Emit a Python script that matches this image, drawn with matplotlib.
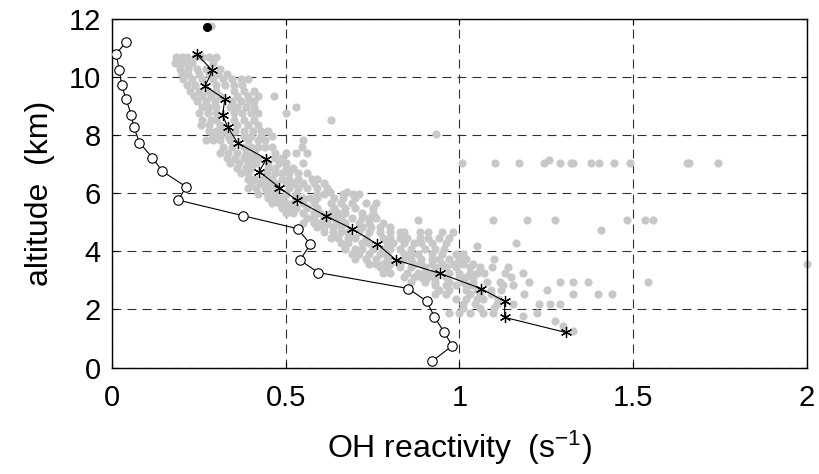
import numpy as np
import matplotlib
matplotlib.use('Agg')
import matplotlib.pyplot as plt

plt.rcParams['font.family'] = ['Liberation Sans', 'DejaVu Sans']
plt.rcParams['mathtext.default'] = 'regular'

# black line with asterisks (x = OH reactivity, y = altitude)
star_x = [0.244, 0.289, 0.268, 0.325, 0.318, 0.333, 0.362, 0.444, 0.424, 0.482,
          0.533, 0.615, 0.690, 0.764, 0.818, 0.944, 1.062, 1.130, 1.130, 1.306]
star_y = [10.77, 10.22, 9.68, 9.23, 8.69, 8.27, 7.72, 7.18, 6.74, 6.19,
          5.75, 5.22, 4.78, 4.24, 3.70, 3.24, 2.72, 2.28, 1.73, 1.21]

# black line with open circles
circ_x = [0.040, 0.012, 0.021, 0.028, 0.040, 0.055, 0.063, 0.079, 0.116, 0.145,
          0.213, 0.191, 0.378, 0.534, 0.571, 0.541, 0.593, 0.853, 0.906, 0.928,
          0.956, 0.979, 0.922]
circ_y = [11.19, 10.79, 10.22, 9.71, 9.25, 8.70, 8.27, 7.74, 7.22, 6.75,
          6.22, 5.76, 5.22, 4.78, 4.24, 3.70, 3.27, 2.72, 2.28, 1.74,
          1.22, 0.75, 0.23]

# single black point at the top
top_x = [0.274]
top_y = [11.72]

# gray scatter, read row by row (altitude: x values)
gray_rows = {
    11.75: [0.285],
    10.68: [0.185, 0.20, 0.215, 0.24, 0.26, 0.28, 0.30],
    10.48: [0.18, 0.195, 0.21, 0.23, 0.29],
    10.28: [0.195, 0.22, 0.245, 0.27, 0.31],
    10.08: [0.20, 0.22, 0.25, 0.28, 0.305, 0.33],
    9.92: [0.205, 0.23, 0.26, 0.29, 0.32, 0.345, 0.37, 0.39],
    9.72: [0.215, 0.24, 0.30, 0.325, 0.35, 0.375],
    9.52: [0.225, 0.25, 0.275, 0.30, 0.35, 0.38, 0.41],
    9.35: [0.235, 0.26, 0.285, 0.31, 0.36, 0.39, 0.42, 0.465],
    9.15: [0.245, 0.27, 0.295, 0.345, 0.37, 0.395, 0.41],
    8.95: [0.26, 0.28, 0.30, 0.34, 0.36, 0.385, 0.41, 0.53],
    8.75: [0.25, 0.275, 0.30, 0.35, 0.375, 0.40, 0.42, 0.50],
    8.52: [0.26, 0.285, 0.30, 0.35, 0.38, 0.41, 0.63],
    8.35: [0.255, 0.28, 0.31, 0.36, 0.39, 0.42],
    8.15: [0.28, 0.30, 0.32, 0.355, 0.38, 0.405, 0.43, 0.45],
    8.04: [0.932],
    7.95: [0.29, 0.31, 0.335, 0.38, 0.40, 0.43, 0.46],
    7.82: [0.27, 0.29, 0.31, 0.34, 0.39, 0.42, 0.44, 0.55],
    7.60: [0.32, 0.345, 0.38, 0.40, 0.42, 0.44, 0.46, 0.546],
    7.38: [0.31, 0.335, 0.36, 0.385, 0.41, 0.47, 0.50, 0.53, 0.56],
    7.20: [0.33, 0.355, 0.38, 0.40, 0.42, 0.47, 0.49],
    7.14: [1.258],
    7.02: [0.34, 0.365, 0.39, 0.415, 0.45, 0.48, 0.50, 0.55, 1.006, 1.103,
           1.170, 1.243, 1.289, 1.320, 1.328, 1.379, 1.401, 1.445, 1.491,
           1.654, 1.661, 1.745],
    6.85: [0.36, 0.385, 0.40, 0.45, 0.47, 0.50, 0.52],
    6.70: [0.37, 0.39, 0.445, 0.47, 0.49, 0.51, 0.536, 0.56],
    6.50: [0.39, 0.41, 0.435, 0.46, 0.49, 0.51, 0.535, 0.575, 0.59],
    6.35: [0.40, 0.425, 0.45, 0.47, 0.50, 0.525, 0.55, 0.58, 0.61],
    6.17: [0.39, 0.415, 0.44, 0.46, 0.51, 0.535, 0.56, 0.589, 0.62],
    6.05: [0.627, 0.675],
    5.98: [0.42, 0.445, 0.47, 0.50, 0.53, 0.59, 0.61, 0.665, 0.693, 0.71],
    5.82: [0.45, 0.47, 0.49, 0.55, 0.57, 0.59, 0.64, 0.665, 0.70],
    5.65: [0.46, 0.48, 0.50, 0.52, 0.55, 0.58, 0.63, 0.66, 0.69, 0.73, 0.76],
    5.48: [0.49, 0.51, 0.53, 0.56, 0.59, 0.64, 0.67, 0.70, 0.75],
    5.32: [0.50, 0.52, 0.55, 0.58, 0.60, 0.63, 0.65, 0.67, 0.72, 0.75],
    5.15: [0.56, 0.58, 0.61, 0.64, 0.66, 0.69, 0.72, 0.74, 0.76],
    5.09: [0.881, 1.096, 1.193, 1.275, 1.483, 1.535, 1.558],
    4.98: [0.55, 0.58, 0.60, 0.62, 0.645, 0.67, 0.71, 0.74, 0.78],
    4.82: [0.59, 0.61, 0.635, 0.66, 0.72, 0.745, 0.77, 0.80],
    4.73: [1.408],
    4.65: [0.61, 0.635, 0.66, 0.68, 0.71, 0.74, 0.77, 0.80, 0.83, 0.84,
           0.885, 0.91, 0.95, 0.98],
    4.45: [0.63, 0.65, 0.68, 0.70, 0.73, 0.78, 0.80, 0.83, 0.85, 0.885,
           0.91, 0.94, 0.97],
    4.27: [0.66, 0.68, 0.72, 0.74, 0.79, 0.81, 0.84, 0.87, 0.89, 0.92,
           0.96, 1.162],
    4.19: [1.051],
    4.08: [0.67, 0.70, 0.72, 0.75, 0.78, 0.80, 0.83, 0.86, 0.90, 0.93, 0.955],
    3.92: [0.69, 0.71, 0.74, 0.77, 0.79, 0.84, 0.86, 0.88, 0.92, 0.95, 0.99, 1.01],
    3.75: [0.70, 0.73, 0.76, 0.79, 0.84, 0.86, 0.89, 0.92, 0.94, 0.97, 1.00,
           1.02, 1.10],
    3.58: [0.74, 0.76, 0.78, 0.80, 0.83, 0.87, 0.89, 0.92, 0.95, 0.98, 1.01,
           1.04, 2.0],
    3.45: [0.77, 0.79, 0.83, 0.86, 0.90, 0.93, 0.96, 0.99, 1.03, 1.06, 1.095,
           1.141],
    3.26: [0.78, 0.80, 0.85, 0.88, 0.90, 0.92, 0.97, 1.00, 1.03, 1.05, 1.07,
           1.13, 1.184],
    3.10: [0.84, 0.87, 0.89, 0.91, 0.93, 0.96, 1.00, 1.02, 1.04, 1.148],
    2.95: [0.86, 0.90, 0.93, 0.97, 1.01, 1.04, 1.08, 1.118, 1.201, 1.289,
           1.326, 1.371, 1.542],
    2.83: [0.93, 0.96, 0.99, 1.02, 1.035, 1.126, 1.153],
    2.67: [0.94, 0.97, 1.02, 1.05, 1.09, 1.12, 1.251],
    2.53: [0.93, 0.96, 1.03, 1.06, 1.09, 1.186, 1.326, 1.400, 1.439],
    2.35: [0.99, 1.02, 1.05, 1.067, 1.11],
    2.20: [1.01, 1.045, 1.107, 1.155, 1.229, 1.26, 1.289],
    2.05: [1.01, 1.06, 1.10],
    1.88: [0.97, 1.00, 1.03, 1.068, 1.097, 1.222],
    1.76: [1.184],
    1.61: [1.275],
    1.42: [1.298],
    1.26: [1.326],
}
gray_y = [a for a, xs in gray_rows.items() for _ in xs]
gray_x = [x for xs in gray_rows.values() for x in xs]

fig = plt.figure(figsize=(8.2, 4.74), dpi=100)
ax = fig.add_axes([0.1366, 0.2243, 0.8475, 0.7365])

ax.plot(gray_x, gray_y, 'o', color='#c8c8c8', markersize=5.9,
        markeredgewidth=0, zorder=2, clip_on=False)
ax.plot(top_x, top_y, 'o', color='black', markersize=5.5, zorder=3)
ax.plot(circ_x, circ_y, '-o', color='black', linewidth=0.8,
        markerfacecolor='white', markeredgecolor='black',
        markersize=6.8, markeredgewidth=0.8, zorder=4)
ax.plot(star_x, star_y, '-', color='black', linewidth=0.8, zorder=4)
ax.plot(star_x, star_y, linestyle='none', marker=(6, 2, 0), color='black',
        markersize=8, markeredgewidth=0.9, zorder=5)

ax.set_xlim(0, 2)
ax.set_ylim(0, 12)
ax.set_xticks([0, 0.5, 1, 1.5, 2])
ax.set_xticklabels(['0', '0.5', '1', '1.5', '2'])
ax.set_yticks(np.arange(0, 13, 2))

ax.set_axisbelow(True)
ax.grid(True, color='#303030', linestyle=(0, (8, 5.5)), linewidth=0.8)
ax.tick_params(direction='in', top=True, right=True, length=4, labelsize=21)
ax.tick_params(axis='x', pad=12)
ax.tick_params(axis='y', pad=8)
for s in ax.spines.values():
    s.set_linewidth(1.0)

ax.set_xlabel('OH reactivity  (s$^{-1}$)', fontsize=23, labelpad=12)
ax.set_ylabel('altitude  (km)', fontsize=23, labelpad=10)

fig.savefig('out.png', dpi=100)
